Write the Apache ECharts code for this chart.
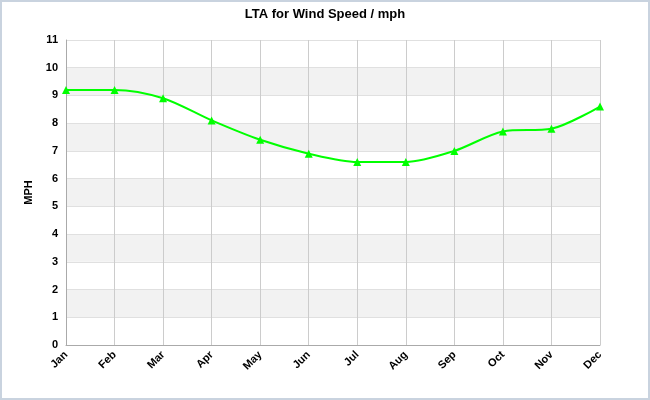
<!DOCTYPE html>
<html>
<head>
<meta charset="utf-8">
<script src="https://cdn.jsdelivr.net/npm/echarts@6/dist/echarts.min.js"></script>
<style>
  html, body { margin: 0; padding: 0; background: #fff; }
  #chart { width: 646px; height: 396px; border: 2px solid #c9d3df; }
</style>
</head>
<body>
<div id="chart"></div>
<script>
var months = ["Jan", "Feb", "Mar", "Apr", "May", "Jun", "Jul", "Aug", "Sep", "Oct", "Nov", "Dec"];
var windSpeed = [9.2, 9.2, 8.9, 8.1, 7.4, 6.9, 6.6, 6.6, 7.0, 7.7, 7.8, 8.6];

var myChart = echarts.init(document.getElementById("chart"));
var labelFont = { color: "#000", fontSize: 11, fontWeight: "bold", fontFamily: "Arial, Liberation Sans, sans-serif" };

var option = {
  animation: false,
  title: {
    text: "LTA for Wind Speed / mph",
    left: "center",
    top: 1,
    textStyle: { fontSize: 13, fontWeight: "bold", color: "#000", fontFamily: "Arial, Liberation Sans, sans-serif" }
  },
  grid: { left: 64, right: 48, top: 38, bottom: 53 },
  xAxis: {
    type: "category",
    boundaryGap: false,
    data: months,
    axisLine: { lineStyle: { color: "#aaa" } },
    axisTick: { show: false },
    axisLabel: Object.assign({ rotate: 45, margin: 8 }, labelFont),
    splitLine: { show: true, lineStyle: { color: "#ccc" } }
  },
  yAxis: {
    type: "value",
    min: 0,
    max: 11,
    interval: 1,
    name: "MPH",
    nameLocation: "middle",
    nameGap: 28,
    nameTextStyle: labelFont,
    axisLine: { show: true, lineStyle: { color: "#aaa" } },
    axisTick: { show: false },
    axisLabel: labelFont,
    splitLine: { show: true, lineStyle: { color: "#e0e0e0" } },
    splitArea: { show: true, areaStyle: { color: ["#ffffff", "#f2f2f2"] } }
  },
  series: [{
    name: "Wind Speed",
    type: "line",
    smooth: 0.3,
    data: windSpeed,
    symbol: "triangle",
    symbolSize: 8,
    lineStyle: { color: "#00ff00", width: 2 },
    itemStyle: { color: "#00ff00" }
  }]
};

myChart.setOption(option);
</script>
</body>
</html>
